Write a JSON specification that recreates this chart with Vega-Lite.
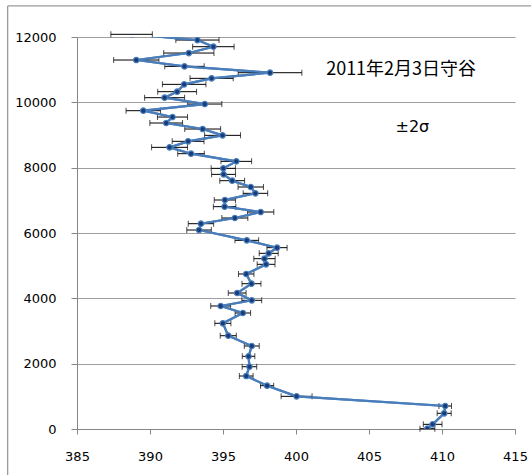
{
  "$schema": "https://vega.github.io/schema/vega-lite/v6.json",
  "width": 438,
  "height": 392,
  "autosize": "none",
  "padding": {"left": 77, "top": 37, "right": 16, "bottom": 46},
  "background": "white",
  "config": {
    "view": {"stroke": null},
    "axis": {"labelFont": "DejaVu Sans", "labelFontSize": 13, "labelColor": "#000"}
  },
  "datasets": {
    "pts": [
      {"alt": 12082, "x": 388.74, "e": 1.42},
      {"alt": 11907, "x": 393.25, "e": 1.48},
      {"alt": 11703, "x": 394.34, "e": 1.42},
      {"alt": 11509, "x": 392.66, "e": 1.72},
      {"alt": 11295, "x": 389.06, "e": 1.55},
      {"alt": 11101, "x": 392.36, "e": 1.35},
      {"alt": 10907, "x": 398.22, "e": 2.18},
      {"alt": 10734, "x": 394.22, "e": 1.48},
      {"alt": 10550, "x": 392.34, "e": 1.49},
      {"alt": 10326, "x": 391.86, "e": 1.33},
      {"alt": 10142, "x": 391.0, "e": 1.37},
      {"alt": 9948, "x": 393.75, "e": 1.17},
      {"alt": 9744, "x": 389.54, "e": 1.18},
      {"alt": 9550, "x": 391.54, "e": 1.03},
      {"alt": 9367, "x": 391.11, "e": 1.12},
      {"alt": 9183, "x": 393.61, "e": 1.23},
      {"alt": 8989, "x": 394.97, "e": 1.23},
      {"alt": 8806, "x": 392.61, "e": 1.09},
      {"alt": 8622, "x": 391.34, "e": 1.23},
      {"alt": 8428, "x": 392.81, "e": 0.91},
      {"alt": 8193, "x": 395.91, "e": 1.05},
      {"alt": 7979, "x": 395.02, "e": 0.83},
      {"alt": 7795, "x": 395.04, "e": 0.82},
      {"alt": 7601, "x": 395.63, "e": 0.85},
      {"alt": 7408, "x": 396.9, "e": 0.87},
      {"alt": 7214, "x": 397.22, "e": 0.84},
      {"alt": 7010, "x": 395.13, "e": 0.73},
      {"alt": 6806, "x": 395.11, "e": 0.77},
      {"alt": 6642, "x": 397.58, "e": 0.9},
      {"alt": 6459, "x": 395.81, "e": 0.89},
      {"alt": 6285, "x": 393.49, "e": 0.87},
      {"alt": 6091, "x": 393.36, "e": 0.84},
      {"alt": 5775, "x": 396.63, "e": 0.81},
      {"alt": 5551, "x": 398.7, "e": 0.69},
      {"alt": 5377, "x": 398.13, "e": 0.65},
      {"alt": 5214, "x": 397.84, "e": 0.73},
      {"alt": 5041, "x": 397.95, "e": 0.61},
      {"alt": 4745, "x": 396.59, "e": 0.53},
      {"alt": 4448, "x": 396.95, "e": 0.65},
      {"alt": 4163, "x": 395.97, "e": 0.61},
      {"alt": 3939, "x": 396.97, "e": 0.68},
      {"alt": 3765, "x": 394.84, "e": 0.68},
      {"alt": 3551, "x": 396.36, "e": 0.53},
      {"alt": 3235, "x": 394.99, "e": 0.55},
      {"alt": 2856, "x": 395.36, "e": 0.55},
      {"alt": 2541, "x": 396.97, "e": 0.51},
      {"alt": 2225, "x": 396.75, "e": 0.43},
      {"alt": 1907, "x": 396.81, "e": 0.5},
      {"alt": 1622, "x": 396.59, "e": 0.47},
      {"alt": 1326, "x": 398.02, "e": 0.45},
      {"alt": 1000, "x": 400.04, "e": 1.06},
      {"alt": 704, "x": 410.22, "e": 0.43},
      {"alt": 480, "x": 410.15, "e": 0.48},
      {"alt": 143, "x": 409.36, "e": 0.64},
      {"alt": 10, "x": 409.0, "e": 0.51}
    ],
    "one": [{"k": 1}]
  },
  "layer": [
    {
      "data": {"name": "pts"},
      "mark": {"type": "line", "color": "#4a7ebb", "strokeWidth": 2.2, "clip": true},
      "encoding": {
        "x": {
          "field": "x", "type": "quantitative", "title": null,
          "scale": {"domain": [385, 415], "nice": false, "zero": false},
          "axis": {"values": [385, 390, 395, 400, 405, 410, 415], "grid": false, "tickSize": 5, "tickColor": "#868686", "domainColor": "#868686", "labelPadding": 16, "labelFlush": false}
        },
        "y": {
          "field": "alt", "type": "quantitative", "title": null,
          "scale": {"domain": [0, 12000], "nice": false},
          "axis": {"values": [0, 2000, 4000, 6000, 8000, 10000, 12000], "format": "d", "grid": true, "gridColor": "#9e9e9e", "tickSize": 6, "tickColor": "#868686", "domainColor": "#868686", "labelPadding": 15, "labelFlush": false}
        },
        "order": {"field": "alt", "type": "quantitative"}
      }
    },
    {
      "data": {"name": "pts"},
      "mark": {"type": "errorbar", "ticks": true, "color": "#000", "thickness": 1, "size": 6},
      "encoding": {
        "x": {"field": "x", "type": "quantitative", "title": null},
        "xError": {"field": "e"},
        "y": {"field": "alt", "type": "quantitative", "title": null}
      }
    },
    {
      "data": {"name": "pts"},
      "mark": {"type": "line", "color": "#4a7ebb", "strokeWidth": 2.2, "clip": true},
      "encoding": {
        "x": {"field": "x", "type": "quantitative", "title": null},
        "y": {"field": "alt", "type": "quantitative", "title": null},
        "order": {"field": "alt", "type": "quantitative"}
      }
    },
    {
      "data": {"name": "pts"},
      "mark": {"type": "point", "filled": true, "fill": "#173c7a", "stroke": "#4a7ebb", "strokeWidth": 1.2, "size": 30, "opacity": 1, "clip": true},
      "encoding": {
        "x": {"field": "x", "type": "quantitative", "title": null},
        "y": {"field": "alt", "type": "quantitative", "title": null}
      }
    },
    {
      "data": {"name": "one"},
      "mark": {"type": "rule", "color": "#9a9a9a", "strokeWidth": 1.3},
      "encoding": {
        "x": {"datum": 380.25, "type": "quantitative"},
        "x2": {"datum": 418},
        "y": {"datum": 12950, "type": "quantitative"},
        "y2": {"datum": 12950}
      }
    },
    {
      "data": {"name": "one"},
      "mark": {"type": "rule", "color": "#9a9a9a", "strokeWidth": 1.3},
      "encoding": {
        "x": {"datum": 380.25, "type": "quantitative"},
        "x2": {"datum": 380.25},
        "y": {"datum": 12950, "type": "quantitative"},
        "y2": {"datum": -2500}
      }
    },
    {
      "data": {"name": "one"},
      "mark": {"type": "text", "text": "2011年2月3日守谷", "font": "Noto Sans CJK JP", "fontSize": 18, "color": "#000", "align": "center", "baseline": "middle"},
      "encoding": {
        "x": {"datum": 407.2, "type": "quantitative"},
        "y": {"datum": 10989, "type": "quantitative"}
      }
    },
    {
      "data": {"name": "one"},
      "mark": {"type": "text", "text": "±2σ", "font": "DejaVu Sans", "fontSize": 16, "color": "#000", "align": "center", "baseline": "middle"},
      "encoding": {
        "x": {"datum": 407.97, "type": "quantitative"},
        "y": {"datum": 9235, "type": "quantitative"}
      }
    }
  ]
}
